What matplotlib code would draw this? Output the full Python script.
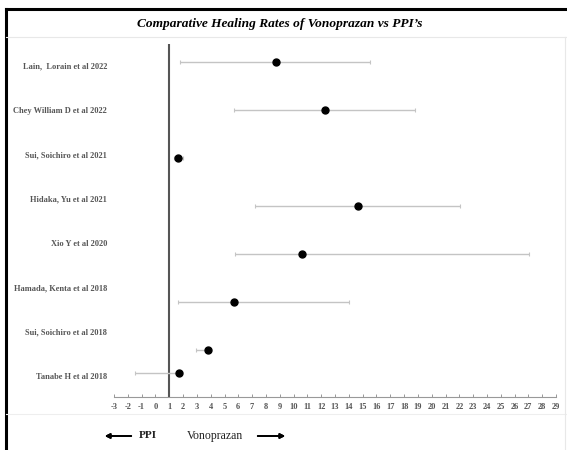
import matplotlib.pyplot as plt
from matplotlib.lines import Line2D
import numpy as np

# Study labels (top to bottom) and their healing-rate estimates
studies = ['Lain,  Lorain et al 2022', 'Chey William D et al 2022', 'Sui, Soichiro et al 2021',
           'Hidaka, Yu et al 2021', 'Xio Y et al 2020', 'Hamada, Kenta et al 2018',
           'Sui, Soichiro et al 2018', 'Tanabe H et al 2018']
estimate = [8.74, 12.31, 1.64, 14.63, 10.62, 5.72, 3.83, 1.73]
lower = [1.78, 5.72, 1.35, 7.24, 5.77, 1.61, 2.94, -1.48]
upper = [15.5, 18.81, 2.0, 22.05, 27.02, 14.03, 3.9, 1.9]
# label rows and where the markers sit (markers are offset from labels in the source)
label_rows = [8, 7, 6, 5, 4, 3, 2, 1]
marker_rows = [8.09, 7.0, 5.92, 4.84, 3.75, 2.67, 1.59, 1.07]
xticks = list(range(-3, 30))

plt.rcParams['font.family'] = ['Liberation Serif', 'DejaVu Serif']

fig = plt.figure(figsize=(5.67, 4.5), dpi=100)
ax = fig.add_axes([114 / 567, 1 - 397 / 450, 442 / 567, 353 / 450])

est = np.array(estimate)
err = np.array([est - np.array(lower), np.array(upper) - est])
ax.errorbar(est, marker_rows, xerr=err, fmt='o', color='black', markersize=5,
            ecolor='#c4c4c4', elinewidth=1.0, capsize=1.5, capthick=0.8, zorder=3)

ax.axvline(1, color='#555555', lw=1.5, zorder=2)

ax.set_xlim(-3, 29)
ax.set_ylim(0.526, 8.49)
ax.set_xticks(xticks)
ax.set_xticklabels([str(t) for t in xticks], fontsize=6, fontweight='bold', color='#555555')
ax.tick_params(axis='x', direction='in', length=2.5, width=0.6, color='#888888', pad=4)
ax.set_yticks(label_rows)
ax.set_yticklabels(studies, fontsize=6, fontweight='bold', color='#555555')
ax.tick_params(axis='y', length=0, pad=5)
for s in ['top', 'right', 'left']:
    ax.spines[s].set_visible(False)
ax.spines['bottom'].set_color('#999999')
ax.spines['bottom'].set_linewidth(0.8)

# title
fig.text(280 / 567, 1 - 24 / 450, 'Comparative Healing Rates of Vonoprazan vs PPI\u2019s',
         ha='center', va='center', fontsize=9.6, fontweight='bold', fontstyle='italic')

# frame and separators
fig.add_artist(Line2D([6 / 567, 1], [1 - 9 / 450, 1 - 9 / 450], color='black', lw=2.2))
fig.add_artist(Line2D([6 / 567, 6 / 567], [0, 1 - 9 / 450], color='black', lw=2.2))
fig.add_artist(Line2D([6 / 567, 1], [1 - 37 / 450, 1 - 37 / 450], color='#e8e8e8', lw=0.8))
fig.add_artist(Line2D([6 / 567, 1], [1 - 414 / 450, 1 - 414 / 450], color='#eeeeee', lw=0.8))
fig.add_artist(Line2D([565 / 567, 565 / 567], [0, 1 - 37 / 450], color='#e8e8e8', lw=0.8))

# direction annotation
yb = 1 - 436 / 450
fig.text(148 / 567, yb, 'PPI', ha='center', va='center', fontsize=8, fontweight='bold', color='#222222')
fig.text(215 / 567, yb, 'Vonoprazan', ha='center', va='center', fontsize=8.5, color='#222222')
fig.add_artist(plt.annotate('', xy=(102 / 567, yb), xytext=(134 / 567, yb), xycoords='figure fraction',
                            arrowprops=dict(arrowstyle='-|>', color='black', lw=1.3, mutation_scale=7)))
fig.add_artist(plt.annotate('', xy=(288 / 567, yb), xytext=(255 / 567, yb), xycoords='figure fraction',
                            arrowprops=dict(arrowstyle='-|>', color='black', lw=1.3, mutation_scale=7)))

fig.savefig('out.png', dpi=100)
